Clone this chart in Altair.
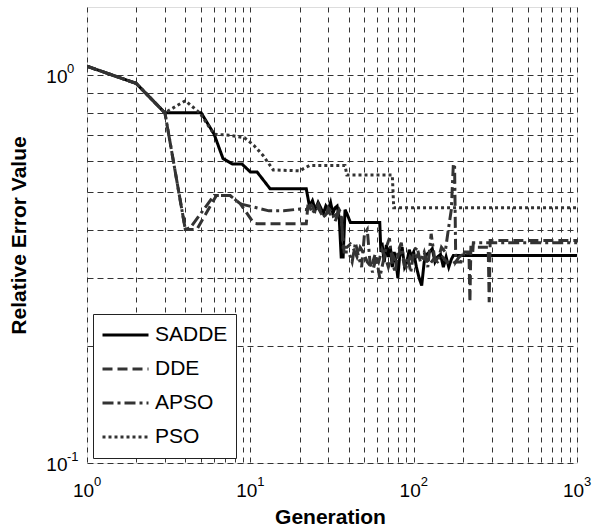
import altair as alt
import pandas as pd

series_names = ["SADDE", "DDE", "APSO", "PSO"]
series_colors = ["#000000", "#333333", "#333333", "#333333"]
series_dashes = [[1, 0], [10, 5], [11, 4, 3, 4], [3, 3]]

sadde = [(1, 1.055), (2, 0.953), (3, 0.80), (5, 0.80), (6, 0.705), (6.8, 0.61), (7.8, 0.59),
         (8.9, 0.59), (10, 0.563), (11, 0.563), (13.2, 0.51), (22, 0.51), (23, 0.46), (24, 0.475),
         (25, 0.45), (26, 0.47), (27, 0.455), (28, 0.44), (29, 0.46), (30, 0.45), (31, 0.47),
         (32, 0.44), (33, 0.455), (34, 0.46), (35, 0.43), (36, 0.34), (37, 0.34), (38, 0.45),
         (39, 0.44), (41, 0.417), (62, 0.417), (63, 0.35), (64, 0.37), (66, 0.33), (68, 0.365),
         (70, 0.34), (72, 0.36), (74, 0.32), (76, 0.35), (78, 0.33), (80, 0.30), (82, 0.34),
         (85, 0.36), (88, 0.32), (91, 0.33), (94, 0.355), (97, 0.34), (100, 0.35), (104, 0.32),
         (108, 0.30), (112, 0.287), (116, 0.33), (120, 0.345), (125, 0.35), (130, 0.357),
         (135, 0.33), (140, 0.34), (146, 0.345), (152, 0.32), (158, 0.34), (164, 0.32),
         (170, 0.335), (175, 0.343), (1000, 0.343)]

dde = [(1, 1.055), (2, 0.953), (3, 0.80), (4, 0.40), (4.7, 0.40), (6.2, 0.49), (7.5, 0.49),
       (8.7, 0.466), (10.5, 0.415), (11, 0.414), (22, 0.414), (22.6, 0.47), (24, 0.46),
       (25, 0.44), (26, 0.455), (28, 0.43), (30, 0.445), (32, 0.43), (34, 0.44), (35, 0.45),
       (36, 0.44), (37, 0.36), (39, 0.36), (41, 0.367), (43, 0.355), (45, 0.34), (47, 0.36),
       (49, 0.35), (52, 0.33), (55, 0.32), (58, 0.345), (61, 0.33), (64, 0.355), (67, 0.34),
       (70, 0.32), (74, 0.345), (78, 0.33), (82, 0.35), (86, 0.335), (90, 0.32), (95, 0.34),
       (100, 0.33), (106, 0.345), (112, 0.33), (118, 0.34), (125, 0.325), (132, 0.335),
       (140, 0.33), (150, 0.34), (160, 0.33), (170, 0.325), (180, 0.33), (195, 0.33),
       (205, 0.35), (218, 0.35), (221, 0.26), (224, 0.36), (286, 0.36), (290, 0.26),
       (294, 0.375), (1000, 0.375)]

apso = [(1, 1.055), (2, 0.953), (3, 0.80), (4, 0.40), (4.3, 0.405), (6, 0.49), (7.5, 0.49),
        (8.7, 0.466), (13, 0.447), (16, 0.447), (20, 0.452), (22, 0.45), (23, 0.46), (24, 0.44),
        (26, 0.465), (27, 0.445), (29, 0.43), (30, 0.455), (32, 0.44), (33, 0.42), (35, 0.445),
        (36, 0.43), (37.5, 0.35), (40, 0.35), (42, 0.33), (44, 0.37), (46, 0.34), (48, 0.32),
        (50, 0.39), (52, 0.40), (54, 0.33), (56, 0.31), (59, 0.34), (62, 0.30), (65, 0.33),
        (68, 0.36), (71, 0.38), (74, 0.33), (77, 0.31), (80, 0.35), (84, 0.37), (88, 0.32),
        (92, 0.34), (96, 0.31), (100, 0.35), (105, 0.36), (110, 0.33), (116, 0.35), (122, 0.32),
        (128, 0.39), (134, 0.34), (140, 0.33), (148, 0.36), (156, 0.35), (163, 0.40),
        (170, 0.45), (175, 0.59), (178, 0.59), (181, 0.33), (190, 0.34), (200, 0.345),
        (230, 0.35), (232, 0.37), (1000, 0.37)]

pso = [(1, 1.055), (2, 0.953), (3, 0.80), (4, 0.86), (4.9, 0.80), (6, 0.705), (7.5, 0.70),
       (9.2, 0.69), (10.5, 0.66), (12, 0.62), (13.8, 0.57), (20, 0.567), (23, 0.585),
       (38, 0.585), (39, 0.553), (74, 0.553), (75.5, 0.455), (1000, 0.455)]

x_grid = [1, 2, 3, 4, 5, 6, 7, 8, 9, 10, 20, 30, 40, 50, 60, 70, 80, 90,
          100, 200, 300, 400, 500, 600, 700, 800, 900, 1000]
y_grid = [0.1, 0.2, 0.3, 0.4, 0.5, 0.6, 0.7, 0.8, 0.9, 1.0]
x_label_values = [1, 10, 100, 1000]
x_label_exponents = ["0", "1", "2", "3"]
y_label_values = [0.1, 1.0]
y_label_exponents = ["-1", "0"]
X_MIN, X_MAX = 1, 1000
Y_MIN, Y_MAX = 0.1, 1.5

rows = []
for name, pts in zip(series_names, [sadde, dde, apso, pso]):
    for i, (g, v) in enumerate(pts):
        rows.append({"series": name, "gen": g, "err": v, "idx": i})
df = pd.DataFrame(rows)

x_exp_df = pd.DataFrame({"gen": x_label_values, "err": [Y_MIN] * len(x_label_values),
                         "txt": x_label_exponents})
y_exp_df = pd.DataFrame({"gen": [X_MIN] * len(y_label_values), "err": y_label_values,
                         "txt": y_label_exponents})


def label_expr(values):
    parts = []
    for v in values:
        parts.append(f"abs(datum.value - {v}) < {v} * 1e-6 ? '10' : ")
    return "".join(parts) + "''"


FONT = "Liberation Sans"

leg = alt.Legend(
    title=None, orient="none", legendX=6, legendY=307,
    fillColor="white", strokeColor="#222222", padding=8,
    symbolType="stroke", symbolSize=2116, symbolStrokeWidth=3,
    labelFontSize=21, labelFont=FONT, labelColor="black",
    clipHeight=26, rowPadding=8, labelOffset=5,
)

x_enc = alt.X("gen:Q",
              scale=alt.Scale(type="log", domain=[X_MIN, X_MAX], nice=False),
              axis=alt.Axis(values=x_grid, labelExpr=label_expr(x_label_values),
                            title="Generation", titleFontSize=21, titleFont=FONT,
                            titleFontWeight="bold", titleX=243, titleY=60,
                            titleBaseline="alphabetic", titleAlign="center",
                            labelFontSize=19, labelFont=FONT, labelColor="black",
                            labelBaseline="alphabetic", labelPadding=33, labelOffset=-4,
                            labelOverlap=False, labelFlush=False,
                            ticks=False, domain=False,
                            grid=True, gridColor="#333333", gridDash=[5, 5], gridWidth=1))
y_enc = alt.Y("err:Q",
              scale=alt.Scale(type="log", domain=[Y_MIN, Y_MAX], nice=False),
              axis=alt.Axis(values=y_grid, labelExpr=label_expr(y_label_values),
                            title="Relative Error Value", titleFontSize=21, titleFont=FONT,
                            titleFontWeight="bold", titleX=-62, titleY=228, titleAngle=270,
                            titleBaseline="alphabetic", titleAlign="center",
                            labelFontSize=19, labelFont=FONT, labelColor="black",
                            labelBaseline="middle", labelOffset=1,
                            labelPadding=20, labelOverlap=False, labelFlush=False,
                            ticks=False, domain=False,
                            grid=True, gridColor="#333333", gridDash=[6, 4], gridWidth=1))

lines = alt.Chart(df).mark_line(strokeWidth=3, clip=True).encode(
    x=x_enc,
    y=y_enc,
    color=alt.Color("series:N", scale=alt.Scale(domain=series_names, range=series_colors),
                    legend=leg),
    strokeDash=alt.StrokeDash("series:N", scale=alt.Scale(domain=series_names, range=series_dashes),
                              legend=leg),
    order="idx:Q",
)

x_exp = alt.Chart(x_exp_df).mark_text(
    align="left", baseline="alphabetic", dx=7, dy=23, fontSize=13, font=FONT, color="black"
).encode(x="gen:Q", y="err:Q", text="txt:N")

y_exp = alt.Chart(y_exp_df).mark_text(
    align="left", baseline="alphabetic", dx=-20, dy=-2, fontSize=13, font=FONT, color="black"
).encode(x="gen:Q", y="err:Q", text="txt:N")

chart = alt.layer(lines, x_exp, y_exp).properties(
    width=490, height=456,
    autosize=alt.AutoSizeParams(type="none"),
    padding={"left": 87, "top": 7, "right": 19, "bottom": 66},
).configure_view(
    stroke="#222222", strokeWidth=1.5
).configure(background="white")

chart.save("out.html", embed_options={"renderer": "svg", "actions": False})
